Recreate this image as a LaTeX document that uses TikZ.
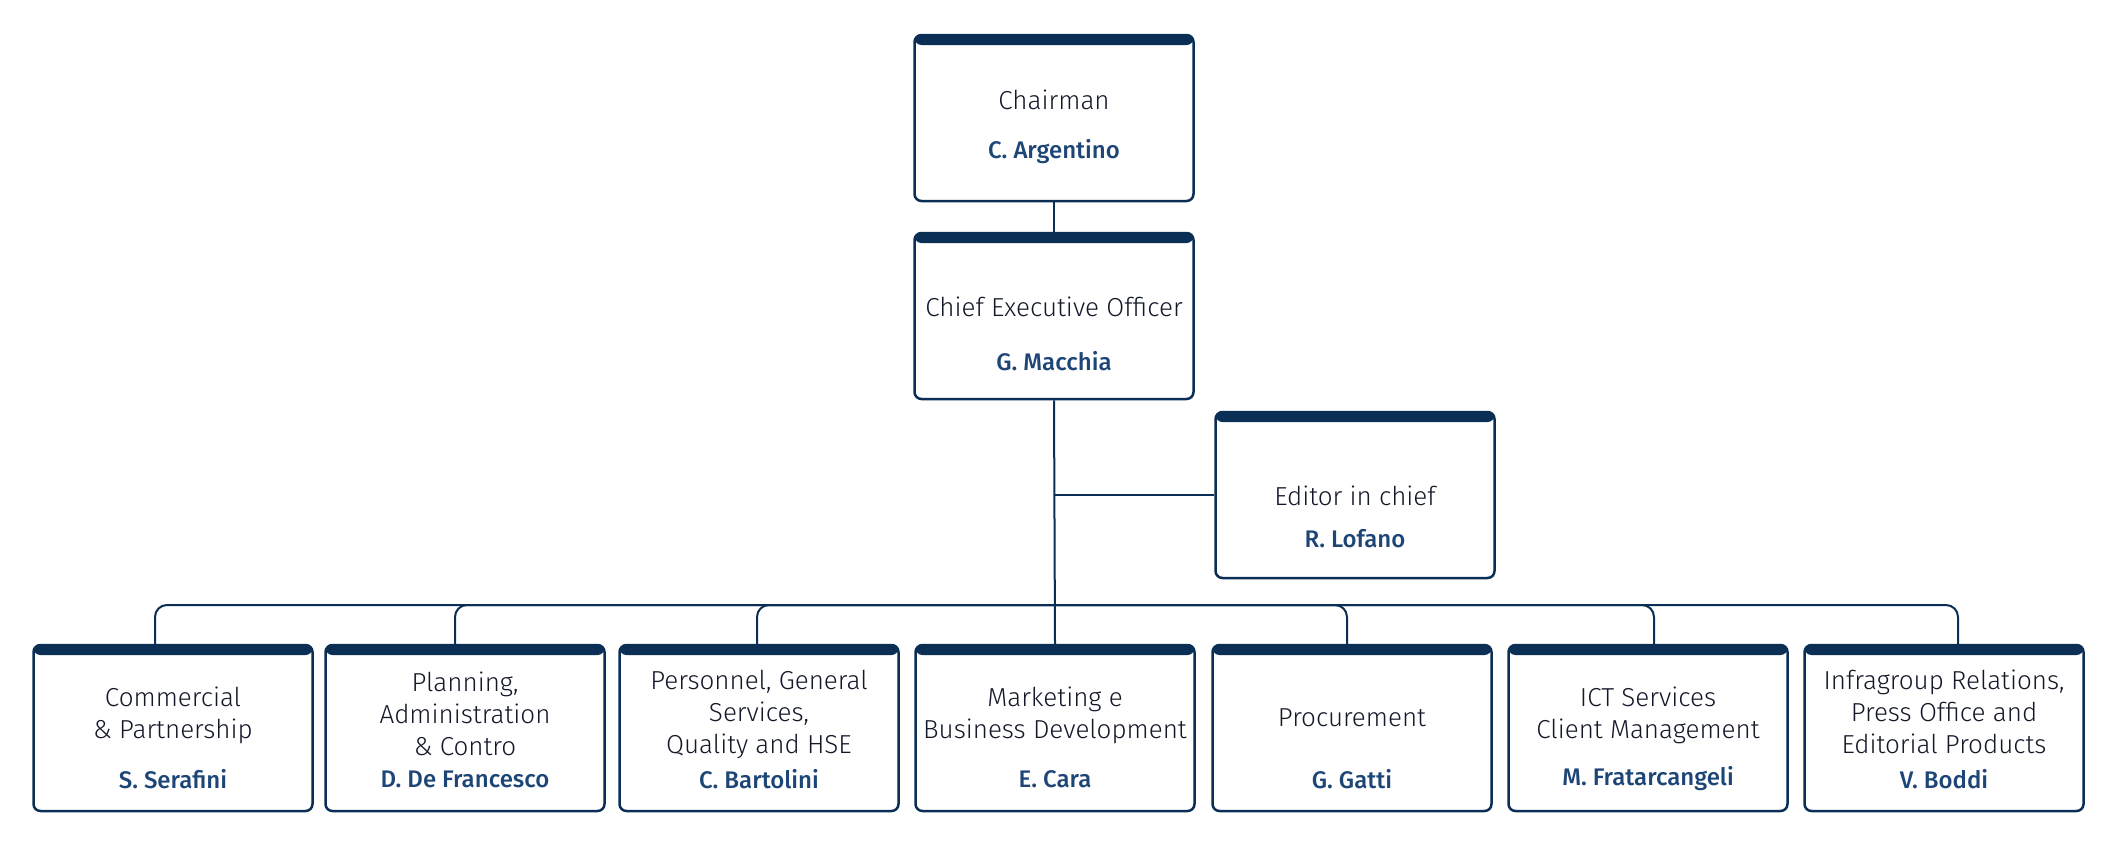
\documentclass[tikz,border=0pt]{standalone}
\usepackage{fontspec}
\setmainfont{Fira Sans}[UprightFont={* Light},BoldFont={* Medium}]
\definecolor{navy}{HTML}{0B2E55}
\definecolor{ink}{HTML}{14192A}
\definecolor{namecol}{HTML}{1D4677}
\tikzset{
  unitbox/.style={draw=navy, line width=2.5pt, rounded corners=7pt, minimum width=279pt, minimum height=166pt, inner sep=0pt, fill=white,
    path picture={\fill[navy] (path picture bounding box.north west) rectangle ([yshift=-10pt]path picture bounding box.north east);}},
  title/.style={text=ink, align=center, inner sep=0pt, font=\fontsize{26}{32}\selectfont},
  person/.style={text=namecol, inner sep=0pt, font=\bfseries\fontsize{24}{28}\selectfont},
  link/.style={draw=navy, line width=2pt},
}
\begin{document}
\begin{tikzpicture}[x=1pt, y=-1pt]
 \useasboundingbox (0,0) rectangle (2112,841);

 % top of the chart
 \node[unitbox] (chair) at (1054,118) {};
 \node[title] (chairT) at (1054,100) {Chairman};
 \node[person] (chairN) at (1054,152) {C. Argentino};

 \node[unitbox] (ceo) at (1054,316) {};
 \node[title] (ceoT) at (1054,307) {Chief Executive Officer};
 \node[person] (ceoN) at (1054,361) {G. Macchia};

 \node[unitbox] (editor) at (1355,495) {};
 \node[title] (editorT) at (1355,496) {Editor in chief};
 \node[person] (editorN) at (1355,539) {R. Lofano};

 % departments
 \node[unitbox] (comm) at (173,728) {};
 \node[title] (commT) at (173,715) {Commercial\\\& Partnership};
 \node[person] (commN) at (173,779) {S. Serafini};

 \node[unitbox] (plan) at (465,728) {};
 \node[title] (planT) at (465,714) {Planning,\\Administration\\\& Contro};
 \node[person] (planN) at (465,779) {D. De Francesco};

 \node[unitbox] (pers) at (759,728) {};
 \node[title] (persT) at (759,714) {Personnel, General\\Services,\\Quality and HSE};
 \node[person] (persN) at (759,779) {C. Bartolini};

 \node[unitbox] (mark) at (1055,728) {};
 \node[title] (markT) at (1055,715) {Marketing e\\Business Development};
 \node[person] (markN) at (1055,779) {E. Cara};

 \node[unitbox] (proc) at (1352,728) {};
 \node[title] (procT) at (1352,718) {Procurement};
 \node[person] (procN) at (1352,779) {G. Gatti};

 \node[unitbox] (ict) at (1648,728) {};
 \node[title] (ictT) at (1648,715) {ICT Services\\Client Management};
 \node[person] (ictN) at (1648,779) {M. Fratarcangeli};

 \node[unitbox] (infra) at (1944,728) {};
 \node[title] (infraT) at (1944,712) {Infragroup Relations,\\Press Office and\\Editorial Products};
 \node[person] (infraN) at (1944,779) {V. Boddi};

 % connectors
 \coordinate (bus) at (1054,605);
 \draw[link] (chair.south) -- (ceo.north);
 \draw[link] (ceo.south) -- (mark.north);
 \draw[link] (editor.west) -- (editor.west -| ceo.south);
 \draw[link, rounded corners=12pt] (bus) -| ([xshift=-18pt]comm.north);
 \draw[link, rounded corners=12pt] (bus) -| ([xshift=-10pt]plan.north);
 \draw[link, rounded corners=12pt] (bus) -| ([xshift=-2pt]pers.north);
 \draw[link, rounded corners=12pt] (bus) -| ([xshift=-5pt]proc.north);
 \draw[link, rounded corners=12pt] (bus) -| ([xshift=6pt]ict.north);
 \draw[link, rounded corners=12pt] (bus) -| ([xshift=14pt]infra.north);
\end{tikzpicture}
\end{document}
